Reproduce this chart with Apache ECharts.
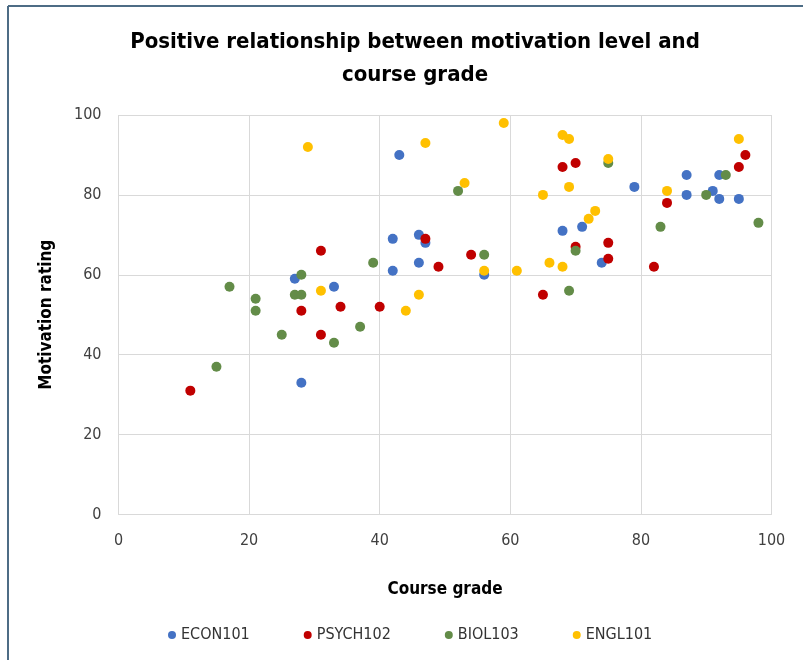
<!DOCTYPE html>
<html>
<head>
<meta charset="utf-8">
<script src="https://cdn.jsdelivr.net/npm/echarts@6/dist/echarts.min.js"></script>
<style>
html,body{margin:0;padding:0;background:#fff;}
#chart{width:803px;height:660px;}
</style>
</head>
<body>
<div id="chart"></div>
<script>
const titleText = "Positive relationship between motivation level and\ncourse grade";
const xAxisName = "Course grade";
const yAxisName = "Motivation rating";
const seriesNames = ["ECON101", "PSYCH102", "BIOL103", "ENGL101"];
const seriesColors = ["#4472C4", "#C00000", "#638C48", "#FFC000"];

const econ101 = [[27,59],[33,57],[28,33],[43,90],[42,69],[46,70],[47,68],[68,71],[42,61],[46,63],[56,60],[71,72],[79,82],[87,85],[87,80],[92,85],[91,81],[92,79],[95,79],[74,63]];
const psych102 = [[31,66],[28,51],[34,52],[31,45],[11,31],[68,87],[70,88],[47,69],[54,65],[70,67],[49,62],[65,55],[40,52],[84,78],[96,90],[95,87],[75,68],[75,64],[82,62]];
const biol103 = [[28,60],[17,57],[21,54],[27,55],[28,55],[21,51],[25,45],[33,43],[15,37],[52,81],[56,65],[70,66],[39,63],[69,56],[37,47],[75,88],[93,85],[90,80],[98,73],[83,72]];
const engl101 = [[29,92],[31,56],[47,93],[59,98],[68,95],[69,94],[53,83],[69,82],[65,80],[56,61],[61,61],[66,63],[68,62],[46,55],[44,51],[75,89],[84,81],[73,76],[72,74],[95,94]];

const allData = [econ101, psych102, biol103, engl101];
const font = "'Liberation Sans Narrow', 'DejaVu Sans Condensed', 'Liberation Sans', sans-serif";

const chart = echarts.init(document.getElementById('chart'), null, {renderer: 'canvas'});
chart.setOption({
  animation: false,
  backgroundColor: '#ffffff',
  graphic: [
    {type: 'line', shape: {x1: 8, y1: 6, x2: 803, y2: 6}, style: {stroke: '#4D6C85', lineWidth: 2}},
    {type: 'line', shape: {x1: 8, y1: 6, x2: 8, y2: 660}, style: {stroke: '#4D6C85', lineWidth: 2}}
  ],
  title: {
    text: titleText,
    left: 410, top: 21, textAlign: 'center',
    textStyle: {fontFamily: font, fontSize: 22, fontWeight: 'bold', color: '#000', lineHeight: 33}
  },
  legend: {
    data: seriesNames,
    top: 622, left: 163,
    icon: 'circle', itemWidth: 8, itemHeight: 8, itemGap: 54,
    textStyle: {fontFamily: font, fontSize: 16, color: '#333'}
  },
  grid: {left: 118.5, right: 31.5, top: 115, bottom: 145.5, containLabel: false},
  xAxis: {
    type: 'value', min: 0, max: 100, interval: 20,
    name: xAxisName, nameLocation: 'middle', nameGap: 67,
    nameTextStyle: {fontFamily: font, fontSize: 17, fontWeight: 'bold', color: '#000'},
    axisLine: {show: true, lineStyle: {color: '#D9D9D9', width: 1}},
    axisTick: {show: false},
    axisLabel: {fontFamily: font, fontSize: 16, color: '#404040', margin: 18},
    splitLine: {show: true, lineStyle: {color: '#D9D9D9', width: 1}}
  },
  yAxis: {
    type: 'value', min: 0, max: 100, interval: 20,
    name: yAxisName, nameLocation: 'middle', nameGap: 63,
    nameTextStyle: {fontFamily: font, fontSize: 17, fontWeight: 'bold', color: '#000'},
    axisLine: {show: false},
    axisTick: {show: false},
    axisLabel: {fontFamily: font, fontSize: 16, color: '#404040', margin: 17},
    splitLine: {show: true, lineStyle: {color: '#D9D9D9', width: 1}}
  },
  series: seriesNames.map((n, i) => ({
    name: n, type: 'scatter', data: allData[i],
    symbol: 'circle', symbolSize: 10,
    itemStyle: {color: seriesColors[i], opacity: 1}
  }))
});
</script>
</body>
</html>
